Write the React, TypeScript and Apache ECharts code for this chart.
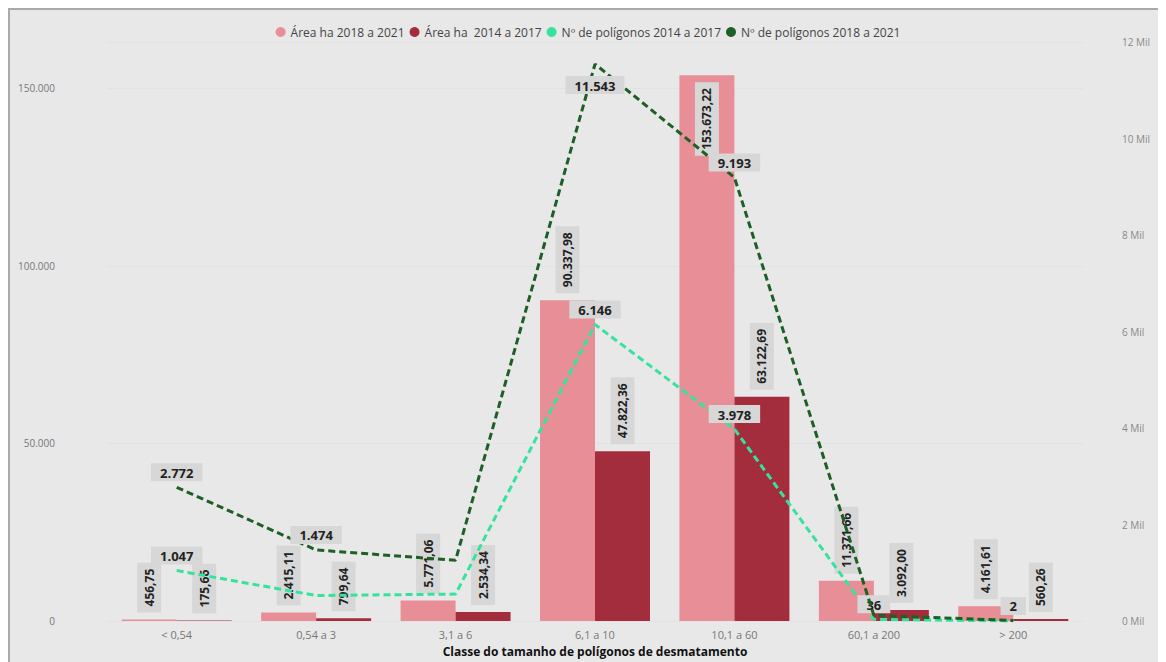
import React, { useEffect, useRef } from "react";
import * as echarts from "echarts";

const categories = ["< 0,54", "0,54 a 3", "3,1 a 6", "6,1 a 10", "10,1 a 60", "60,1 a 200", "> 200"];
const area2018 = [456.75, 2415.11, 5771.06, 90337.98, 153673.22, 11371.66, 4161.61];
const area2014 = [175.66, 799.64, 2534.34, 47822.36, 63122.69, 3092.0, 560.26];
const poly2014 = [1047, 530, 560, 6146, 3978, 36, 2];
const poly2018 = [2772, 1474, 1260, 11543, 9193, 120, 12];
const poly2014Labeled = [true, false, false, true, true, true, true];
const poly2018Labeled = [true, true, false, true, true, false, false];
const leftTicks = [0, 50000, 100000, 150000];
const rightTicks = [0, 2000, 4000, 6000, 8000, 10000, 12000];

const seriesNames = [
  "Área ha 2018 a 2021",
  "Área ha  2014 a 2017",
  "Nº de polígonos 2014 a 2017",
  "Nº de polígonos 2018 a 2021",
];

function fmt(n: number, decimals: number): string {
  const s = n.toFixed(decimals);
  const [i, d] = s.split(".");
  const ii = i.replace(/\B(?=(\d{3})+(?!\d))/g, ".");
  return d ? ii + "," + d : ii;
}

const FONT = "'Open Sans', 'Noto Sans', sans-serif";

export default function App() {
  const ref = useRef<HTMLDivElement>(null);
  useEffect(() => {
    if (!ref.current) return;
    const chart = echarts.init(ref.current, null, { renderer: "svg" });
    const barLabel = {
      show: true,
      rotate: 90,
      position: "top",
      align: "left",
      verticalAlign: "middle",
      distance: 7,
      color: "#222",
      fontWeight: "bold",
      fontSize: 12,
      fontFamily: FONT,
      backgroundColor: "#d7d7d7",
      padding: [6, 6, 6, 6],
      formatter: (p: any) => fmt(p.value, 2),
    };
    const lineLabel = {
      show: true,
      position: "top",
      distance: 6,
      color: "#222",
      fontWeight: "bold",
      fontSize: 13,
      fontFamily: FONT,
      backgroundColor: "#d7d7d7",
      padding: [3, 9, 2, 9],
      formatter: (p: any) => fmt(p.value, 0),
    };
    const maxIdx = area2018.indexOf(Math.max(...area2018));
    const peakIdx = poly2018.indexOf(Math.max(...poly2018));
    chart.setOption({
      animation: false,
      backgroundColor: "#e8e8e8",
      textStyle: { fontFamily: FONT },
      legend: {
        top: 11,
        left: "center",
        icon: "circle",
        itemWidth: 10,
        itemHeight: 10,
        itemGap: 5,
        textStyle: { color: "#444", fontSize: 12, fontFamily: FONT },
        data: seriesNames,
      },
      grid: { left: 97, right: 83, top: 32, bottom: 35 },
      xAxis: {
        type: "category",
        data: categories,
        axisLine: { show: false },
        axisTick: { show: false },
        axisLabel: { color: "#777", fontSize: 11, margin: 8 },
        name: "Classe do tamanho de polígonos de desmatamento",
        nameLocation: "middle",
        nameGap: 22,
        nameTextStyle: { color: "#111", fontSize: 12, fontWeight: "bold" },
      },
      yAxis: [
        {
          type: "value",
          min: 0,
          max: 163000,
          interval: 50000,
          axisLine: { show: false },
          axisTick: { show: false },
          splitLine: { lineStyle: { color: "#e2e2e2" } },
          axisLabel: {
            color: "#777",
            fontSize: 10,
            margin: 52,
            formatter: (v: number) => (leftTicks.includes(v) ? fmt(v, 0) : ""),
          },
        },
        {
          type: "value",
          min: 0,
          max: 12000,
          interval: 2000,
          axisLine: { show: false },
          axisTick: { show: false },
          splitLine: { show: false },
          axisLabel: {
            color: "#888",
            fontSize: 10,
            margin: 39,
            formatter: (v: number) => (rightTicks.includes(v) ? v / 1000 + " Mil" : ""),
          },
        },
      ],
      series: [
        {
          name: seriesNames[0],
          type: "bar",
          barWidth: 55,
          barGap: "0%",
          itemStyle: { color: "#e88e97" },
          label: barLabel,
          z: 2,
          data: area2018.map((v, i) =>
            i === maxIdx
              ? { value: v, label: { position: "insideTop", align: "right", distance: 7 } }
              : v
          ),
        },
        {
          name: seriesNames[1],
          type: "bar",
          barWidth: 55,
          barGap: "0%",
          itemStyle: { color: "#a32d3d" },
          label: barLabel,
          z: 2,
          data: area2014,
        },
        {
          name: seriesNames[2],
          type: "line",
          yAxisIndex: 1,
          symbol: "circle",
          symbolSize: 0.1,
          itemStyle: { color: "#35e39e" },
          lineStyle: { color: "#35e39e", width: 3, type: [7, 4] },
          label: lineLabel,
          z: 4,
          data: poly2014.map((v, i) => ({ value: v, label: { show: poly2014Labeled[i] } })),
        },
        {
          name: seriesNames[3],
          type: "line",
          yAxisIndex: 1,
          symbol: "circle",
          symbolSize: 0.1,
          itemStyle: { color: "#1d5f25" },
          lineStyle: { color: "#1d5f25", width: 3, type: [7, 4] },
          label: lineLabel,
          z: 5,
          data: poly2018.map((v, i) =>
            i === peakIdx
              ? { value: v, label: { show: poly2018Labeled[i], position: "bottom", distance: 12 } }
              : { value: v, label: { show: poly2018Labeled[i] } }
          ),
        },
      ],
    });
    return () => chart.dispose();
  }, []);
  return (
    <div
      style={{
        width: 1158,
        height: 654,
        boxSizing: "border-box",
        borderTop: "2px solid #a9a9a9",
        borderLeft: "2px solid #a9a9a9",
        background: "#e8e8e8",
        overflow: "hidden",
      }}
    >
      <div ref={ref} style={{ width: 1156, height: 652 }} />
    </div>
  );
}
